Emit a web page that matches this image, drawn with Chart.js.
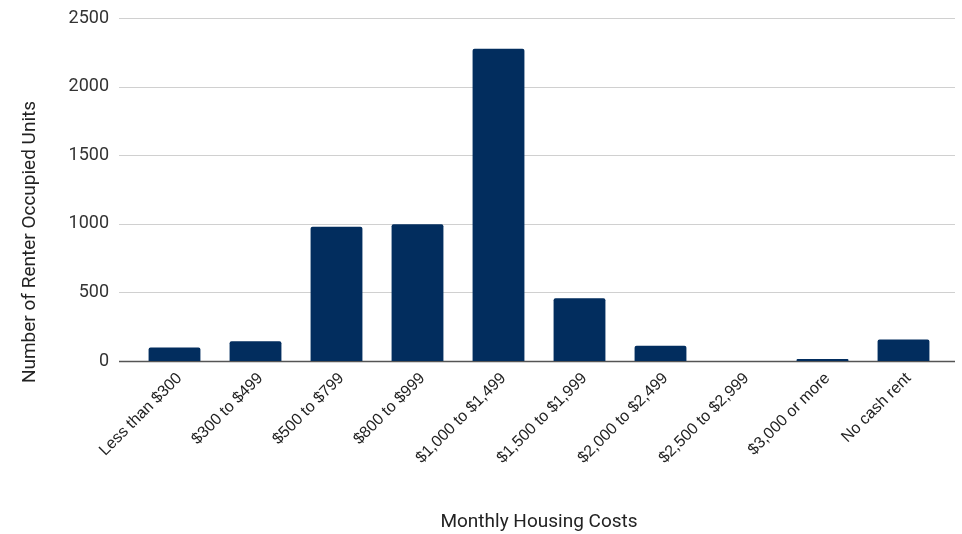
<!DOCTYPE html>
<html>
<head>
<meta charset="utf-8">
<script src="https://cdn.jsdelivr.net/npm/chart.js@4"></script>
<style>
  html, body { margin: 0; padding: 0; background: #fff; }
  #wrap { width: 962px; height: 534px; }
</style>
</head>
<body>
<div id="wrap"><canvas id="housingChart"></canvas></div>
<script>
// categories and values
const costLabels = ['Less than $300', '$300 to $499', '$500 to $799', '$800 to $999',
  '$1,000 to $1,499', '$1,500 to $1,999', '$2,000 to $2,499', '$2,500 to $2,999',
  '$3,000 or more', 'No cash rent'];
const renterUnits = [98, 144, 978, 996, 2275, 458, 112, 0, 15, 156];
const yTicks = [0, 500, 1000, 1500, 2000, 2500];
const yTitle = 'Number of Renter Occupied Units';

const barColor = '#022d5e';

// gridlines in the reference run a bit past the bars on both sides,
// and the y title sits lower than the middle of the axis
const wideGrid = {
  id: 'wideGrid',
  beforeDatasetsDraw(chart) {
    const ctx = chart.ctx;
    const y = chart.scales.y;
    const area = chart.chartArea;
    ctx.save();
    yTicks.forEach(v => {
      const py = Math.round(y.getPixelForValue(v)) + 0.5;
      ctx.beginPath();
      ctx.strokeStyle = v === 0 ? '#555' : '#d0d0d0';
      ctx.lineWidth = v === 0 ? 1.5 : 1;
      ctx.moveTo(area.left - 15, py);
      ctx.lineTo(area.right + 11, py);
      ctx.stroke();
    });
    ctx.restore();
  },
  afterDraw(chart) {
    const ctx = chart.ctx;
    ctx.save();
    ctx.translate(30, 242);
    ctx.rotate(-Math.PI / 2);
    ctx.font = '19px Roboto';
    ctx.fillStyle = '#222';
    ctx.textAlign = 'center';
    ctx.textBaseline = 'middle';
    ctx.fillText(yTitle, 0, 0);
    ctx.restore();
  }
};

Chart.defaults.font.family = 'Roboto';
Chart.defaults.color = '#222';

new Chart(document.getElementById('housingChart'), {
  type: 'bar',
  data: {
    labels: costLabels,
    datasets: [{
      label: 'Renter Occupied Units',
      data: renterUnits,
      backgroundColor: barColor,
      borderRadius: 2,
      borderSkipped: 'bottom',
      categoryPercentage: 1,
      barPercentage: 0.64
    }]
  },
  options: {
    responsive: true,
    maintainAspectRatio: false,
    animation: false,
    layout: { padding: { top: 18, right: 18, bottom: 0, left: 0 } },
    plugins: {
      legend: { display: false },
      tooltip: { enabled: false }
    },
    scales: {
      x: {
        grid: { display: false, drawTicks: false },
        border: { display: false },
        ticks: {
          autoSkip: false,
          minRotation: 45,
          maxRotation: 45,
          padding: 8,
          labelOffset: 5,
          color: '#222',
          font: { family: "'Liberation Sans', Arial, sans-serif", size: 16 }
        },
        title: {
          display: true,
          text: 'Monthly Housing Costs',
          color: '#222',
          font: { size: 19 },
          padding: { top: 0, bottom: 0 }
        },
        afterFit(scale) { scale.height = 173; }
      },
      y: {
        min: 0,
        max: 2500,
        // tick marks are hidden but keep their length as label spacing
        grid: { display: false, drawTicks: true, tickLength: 18 },
        border: { display: false },
        ticks: {
          stepSize: 500,
          padding: 7,
          color: '#333',
          font: { size: 18 },
          callback: v => String(v)
        },
        afterFit(scale) { scale.width = 134; }
      }
    }
  },
  plugins: [wideGrid]
});
</script>
</body>
</html>
